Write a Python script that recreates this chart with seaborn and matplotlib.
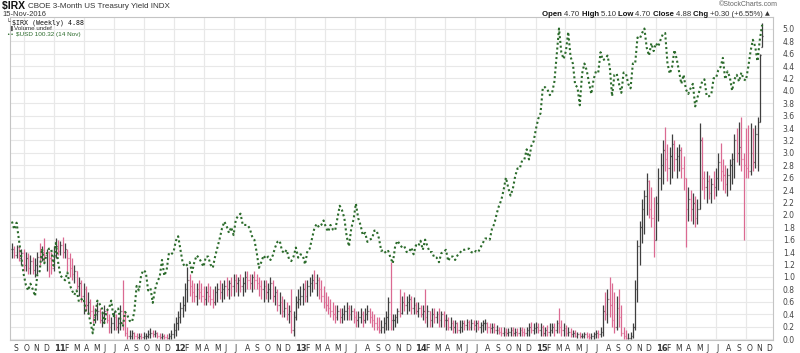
import numpy as np
import pandas as pd
import seaborn as sns
import matplotlib
matplotlib.use('Agg')
import matplotlib.pyplot as plt
import matplotlib.dates as mdates

# $IRX weekly bars as (low, high, close), one list per calendar year
irx_2010 = [(1.30,1.55,1.45),(1.30,1.50,1.35),(1.30,1.52,1.48),(1.25,1.50,1.30),(1.20,1.45,1.38),
            (1.10,1.45,1.20),(1.10,1.40,1.30),(1.05,1.38,1.15),(1.05,1.35,1.25),(1.05,1.32,1.12),
            (1.00,1.30,1.20),(1.05,1.40,1.32),(1.20,1.55,1.30),(1.25,1.50,1.40),(1.25,1.62,1.35),
            (1.10,1.45,1.40),(1.00,1.42,1.30),(1.05,1.40,1.15),(1.10,1.50,1.35)]
irx_2011 = [(1.30,1.62,1.50),(1.35,1.60,1.42),(1.35,1.58,1.52),(1.30,1.65,1.40),(1.30,1.55,1.45),
            (1.10,1.45,1.30),(1.00,1.38,1.15),(0.95,1.30,1.05),(0.90,1.20,1.10),(0.80,1.10,0.85),
            (0.70,1.00,0.90),(0.60,0.95,0.70),(0.40,0.90,0.80),(0.45,0.85,0.55),
            (0.40,0.75,0.60),(0.35,0.65,0.45),(0.25,0.55,0.35),(0.25,0.50,0.40),(0.30,0.60,0.45),
            (0.25,0.50,0.30),(0.20,0.45,0.35),(0.25,0.55,0.45),(0.25,0.50,0.30),(0.10,0.40,0.20),
            (0.10,0.35,0.25),(0.15,0.45,0.35),(0.15,0.40,0.20),(0.10,0.35,0.25),(0.15,0.55,0.45),
            (0.15,0.95,0.30),
            (0.05,0.45,0.10),(0.00,0.20,0.05),(0.00,0.15,0.05),(0.00,0.15,0.10),(0.00,0.12,0.05),
            (0.00,0.10,0.03),(0.00,0.10,0.05),(0.00,0.10,0.03),(0.00,0.12,0.05),(0.00,0.10,0.05),
            (0.02,0.15,0.08),(0.02,0.18,0.10),(0.03,0.15,0.08),(0.03,0.15,0.10),(0.02,0.12,0.05),
            (0.00,0.10,0.03),(0.00,0.10,0.05),(0.00,0.08,0.03),(0.00,0.08,0.02),(0.00,0.10,0.05),
            (0.00,0.15,0.08),(0.02,0.25,0.15)]
irx_2012 = [(0.05,0.35,0.25),(0.15,0.45,0.35),(0.25,0.60,0.50),(0.35,0.70,0.55),(0.45,0.90,0.80),
            (0.60,1.16,0.95),(0.70,1.05,0.85),(0.60,0.95,0.75),(0.60,0.90,0.70),(0.55,0.90,0.80),
            (0.65,0.95,0.75),(0.60,0.90,0.70),(0.55,0.85,0.65),(0.55,0.85,0.75),(0.60,0.90,0.70),
            (0.55,0.85,0.65),(0.50,0.80,0.60),(0.55,0.85,0.75),(0.60,0.90,0.80),(0.65,0.95,0.75),
            (0.60,0.90,0.80),(0.65,0.95,0.85),(0.70,1.00,0.80),(0.65,0.95,0.90),(0.70,1.00,0.85),
            (0.70,1.05,0.95),(0.75,1.05,0.90),(0.70,1.00,0.95),(0.75,1.05,0.85),(0.70,1.00,0.90),
            (0.75,1.10,1.00),(0.80,1.10,0.95),(0.80,1.05,0.90),(0.75,1.05,1.00),(0.80,1.10,0.95),
            (0.80,1.05,0.90),(0.70,1.00,0.85),(0.65,0.95,0.80),(0.60,0.95,0.85),(0.65,0.95,0.75),
            (0.60,0.90,0.80),(0.65,1.00,0.90),(0.60,0.95,0.70),(0.55,0.85,0.75),(0.45,0.80,0.55),
            (0.40,0.75,0.60),(0.35,0.70,0.45),(0.35,0.65,0.50),(0.30,0.60,0.40),(0.25,0.55,0.45),
            (0.10,0.80,0.15),(0.05,0.45,0.35)]
irx_2013 = [(0.30,0.70,0.60),(0.50,0.80,0.65),(0.55,0.85,0.70),(0.55,0.90,0.80),(0.60,0.95,0.70),
            (0.60,0.95,0.85),(0.70,1.00,0.90),(0.75,1.05,0.95),(0.80,1.12,0.90),(0.70,1.05,0.95),
            (0.65,1.00,0.80),(0.60,0.95,0.70),(0.50,0.85,0.60),(0.45,0.75,0.55),(0.40,0.70,0.50),
            (0.35,0.65,0.45),(0.30,0.60,0.40),(0.25,0.55,0.35),(0.30,0.55,0.45),(0.25,0.50,0.35),
            (0.25,0.50,0.40),(0.30,0.55,0.45),(0.30,0.60,0.50),(0.30,0.55,0.40),(0.30,0.55,0.45),
            (0.25,0.50,0.35),(0.20,0.45,0.30),(0.20,0.45,0.35),(0.25,0.50,0.40),(0.20,0.45,0.30),
            (0.25,0.50,0.40),(0.30,0.55,0.45),(0.25,0.50,0.35),(0.20,0.45,0.30),(0.15,0.40,0.25),
            (0.15,0.35,0.20),(0.10,0.35,0.15),(0.10,0.30,0.20),(0.10,0.35,0.25),(0.15,0.45,0.35),
            (0.15,0.68,0.60),(0.15,1.24,0.30),(0.15,0.40,0.30),(0.20,0.40,0.35),(0.25,0.50,0.45),
            (0.35,0.80,0.42),(0.40,0.70,0.60),(0.45,0.75,0.55),(0.40,0.70,0.60),(0.45,0.72,0.65),
            (0.40,0.70,0.50),(0.40,0.68,0.55)]
irx_2014 = [(0.40,0.60,0.45),(0.35,0.60,0.50),(0.35,0.55,0.40),(0.30,0.55,0.45),(0.25,0.80,0.35),
            (0.20,0.55,0.45),(0.20,0.45,0.30),(0.20,0.50,0.40),(0.25,0.50,0.35),(0.25,0.45,0.40),
            (0.20,0.50,0.30),(0.20,0.45,0.40),(0.20,0.45,0.30),(0.15,0.40,0.30),(0.15,0.35,0.20),
            (0.15,0.35,0.25),(0.10,0.30,0.20),(0.10,0.30,0.25),(0.10,0.28,0.15),(0.10,0.30,0.20),
            (0.12,0.30,0.25),(0.15,0.30,0.22),(0.15,0.32,0.28),(0.15,0.30,0.20),(0.15,0.32,0.25),
            (0.15,0.30,0.22),(0.12,0.30,0.25),(0.15,0.30,0.20),(0.10,0.28,0.22),(0.12,0.30,0.25),
            (0.15,0.32,0.25),(0.10,0.28,0.20),(0.10,0.25,0.18),(0.10,0.25,0.20),(0.10,0.25,0.15),
            (0.08,0.22,0.15),(0.08,0.20,0.12),(0.05,0.20,0.10),(0.05,0.20,0.12),(0.05,0.18,0.10),
            (0.05,0.18,0.12),(0.05,0.20,0.15),(0.05,0.20,0.10),(0.05,0.18,0.12),(0.05,0.18,0.10),
            (0.05,0.20,0.15),(0.05,0.20,0.12),(0.05,0.18,0.10),(0.05,0.20,0.15),(0.05,0.25,0.20),
            (0.10,0.28,0.15),(0.08,0.25,0.18)]
irx_2015 = [(0.10,0.28,0.20),(0.10,0.25,0.15),(0.05,0.25,0.20),(0.05,0.22,0.10),(0.05,0.20,0.15),
            (0.05,0.22,0.12),(0.05,0.25,0.15),(0.10,0.25,0.20),(0.05,0.25,0.15),(0.10,0.30,0.25),
            (0.10,0.50,0.20),(0.05,0.30,0.15),(0.05,0.25,0.18),(0.05,0.22,0.10),(0.05,0.20,0.12),
            (0.03,0.18,0.08),(0.03,0.15,0.10),(0.03,0.15,0.05),(0.02,0.12,0.08),(0.02,0.12,0.05),
            (0.02,0.10,0.05),(0.02,0.12,0.08),(0.02,0.12,0.05),(0.00,0.10,0.03),(0.00,0.10,0.05),
            (0.00,0.12,0.08),(0.02,0.15,0.10),(0.02,0.15,0.08),(0.03,0.20,0.12),(0.05,0.55,0.45),
            (0.30,0.75,0.40),(0.25,0.80,0.65),(0.35,1.00,0.55),(0.20,0.90,0.30),(0.10,0.75,0.20),
            (0.15,0.70,0.50),(0.20,0.80,0.35),(0.05,0.55,0.10),(0.00,0.20,0.05),(0.00,0.15,0.02),
            (0.00,0.10,0.02),(0.00,0.12,0.05),(0.02,0.25,0.20),(0.15,0.95,0.80),(0.60,1.60,1.50),
            (1.20,1.90,1.80),(1.55,2.25,2.10),(1.70,2.40,2.30),(2.00,2.68,2.55),(1.95,2.57,2.10),
            (1.80,2.45,1.95),(1.32,2.29,1.60)]
irx_2016 = [(1.60,2.30,2.20),(1.90,2.75,2.60),(2.40,3.00,2.80),(2.50,3.20,3.05),(2.70,3.42,2.90),
            (2.55,3.15,2.75),(2.50,3.10,2.95),(2.60,3.30,3.15),(2.70,3.20,2.90),(2.60,3.10,2.95),
            (2.70,3.15,3.05),(2.60,3.10,2.75),(2.40,2.95,2.60),(1.48,2.60,2.10),(1.90,2.45,2.25),
            (1.90,2.40,2.10),(1.85,2.35,2.20),(1.80,2.30,1.95),(1.85,2.25,2.10),(2.10,3.48,3.20),
            (2.40,3.25,2.60),(2.25,2.70,2.45),(2.20,2.70,2.55),(2.25,2.65,2.35),(2.20,2.60,2.50),
            (2.25,2.70,2.45),(2.30,2.75,2.60),(2.40,3.00,2.85),(2.55,3.16,2.70),(2.40,2.90,2.65),
            (2.35,2.80,2.50),(2.30,2.75,2.65),(2.40,2.90,2.80),(2.50,3.00,2.90),(2.60,3.30,3.20),
            (2.85,3.40,3.00),(2.80,3.50,3.10),(2.70,3.58,2.90),(1.60,3.00,2.80),(2.60,3.40,2.75),
            (2.60,3.45,2.70),(2.65,3.48,3.00),(2.70,3.40,2.85),(2.75,3.45,3.30),(2.70,3.58,3.50),
            (3.50,4.60,4.58),(4.70,5.10,4.88)]

# $USD weekly closes (overlay)
usd_2010 = [82.9, 82.2, 82.8, 81.3, 79.8, 78.3, 77.3, 76.8, 77.4, 76.9, 76.3, 78.2, 78.5, 80.5,
            79.2, 80.0, 80.5, 80.5, 79.0]
usd_2011 = [81.0, 79.3, 78.1, 77.9, 77.7, 78.4, 77.3, 76.8, 76.4, 76.8, 75.8, 76.0, 76.1, 75.0,
            74.9, 74.0, 73.0, 74.5, 75.9, 75.6, 75.2, 73.9, 75.0, 75.2, 75.9, 74.4, 75.0, 75.2,
            74.2, 73.6, 74.9, 74.6, 74.1, 74.0, 74.9, 77.2, 76.8, 78.2, 78.6, 78.4, 76.8, 77.0,
            75.7, 76.9, 77.6, 78.0, 79.5, 78.1, 78.6, 80.1, 80.0, 80.2]
usd_2012 = [81.2, 81.6, 80.4, 79.2, 78.9, 79.1, 79.3, 78.4, 79.3, 79.9, 79.7, 79.3, 78.9, 79.8,
            79.8, 79.1, 78.8, 79.8, 80.6, 81.4, 82.3, 82.9, 82.5, 81.9, 82.4, 81.7, 83.1, 83.4,
            83.6, 82.6, 82.6, 82.6, 82.3, 81.6, 81.3, 80.2, 78.8, 79.3, 79.9, 79.6, 79.8, 79.5,
            79.9, 80.6, 81.1, 81.2, 80.3, 80.1, 80.4, 79.6, 79.4, 79.8]
usd_2013 = [80.6, 79.7, 80.0, 79.9, 79.1, 80.3, 80.5, 81.4, 82.3, 82.7, 82.4, 82.6, 83.0, 82.4,
            82.0, 82.6, 82.2, 82.1, 83.2, 84.3, 83.9, 83.2, 81.6, 80.7, 82.3, 83.1, 84.5, 83.2,
            82.6, 81.7, 81.9, 81.1, 81.3, 81.4, 82.1, 82.1, 81.4, 80.3, 80.4, 80.1, 80.3, 79.7,
            79.2, 80.7, 81.2, 80.9, 80.6, 80.7, 80.2, 80.2, 80.6, 80.0]
usd_2014 = [80.8, 80.7, 81.2, 80.4, 81.3, 80.7, 80.2, 80.2, 79.7, 79.7, 79.3, 80.1, 80.2, 80.4,
            79.4, 79.8, 79.8, 79.5, 79.9, 80.1, 80.4, 80.4, 80.5, 80.5, 80.2, 80.1, 80.3, 80.2,
            80.6, 81.0, 81.4, 81.4, 81.3, 82.3, 82.7, 83.6, 84.3, 84.8, 85.7, 86.8, 85.9, 85.2,
            85.8, 86.9, 87.6, 87.6, 88.3, 88.4, 89.3, 88.4, 89.6, 90.0]
usd_2015 = [91.1, 92.0, 92.5, 94.8, 94.8, 94.6, 94.1, 94.3, 95.3, 97.7, 100.0, 97.9, 97.3, 98.0,
            99.7, 97.5, 96.9, 95.0, 94.8, 93.2, 96.0, 96.9, 96.3, 95.2, 94.2, 95.5, 96.2, 96.1,
            97.9, 97.2, 97.3, 97.6, 96.6, 94.0, 95.9, 96.0, 95.1, 94.3, 96.1, 96.0, 95.1, 94.7,
            96.9, 96.9, 99.2, 99.1, 99.6, 100.0, 98.3, 97.6, 98.7, 98.0]
usd_2016 = [98.7, 98.4, 99.0, 99.5, 99.6, 96.9, 96.0, 96.6, 98.1, 97.3, 96.2, 95.1, 95.9, 94.6,
            94.2, 94.7, 95.1, 93.1, 93.9, 94.6, 95.3, 95.5, 94.0, 94.0, 94.2, 95.6, 95.6, 96.3,
            96.6, 97.4, 95.5, 96.2, 95.7, 94.5, 95.5, 95.9, 95.3, 96.1, 95.5, 95.4, 96.6, 98.0,
            99.0, 98.4, 97.1, 99.0, 100.32]

first_week = '2010-08-27'
last_open, last_high, last_low, last_close = 4.70, 5.10, 4.70, 4.88
chg, chg_pct = 0.30, 6.55
usd_last = 100.32

bars = irx_2010 + irx_2011 + irx_2012 + irx_2013 + irx_2014 + irx_2015 + irx_2016
usd = usd_2010 + usd_2011 + usd_2012 + usd_2013 + usd_2014 + usd_2015 + usd_2016
df = pd.DataFrame(bars, columns=['low', 'high', 'close'])
df['date'] = pd.date_range(first_week, periods=len(df), freq='7D')
df['usd'] = usd
df['x'] = mdates.date2num(df['date'])
df['open'] = df['close'].shift(1).fillna(df['close'])
df.loc[df.index[-1], 'open'] = last_open
df['up'] = df['close'] >= df['close'].shift(1).fillna(df['close'])

sns.set_style('white')
plt.rcParams['font.family'] = ['DejaVu Sans']

W, H = 800, 353
fig = plt.figure(figsize=(W / 100, H / 100), dpi=100)
ax = fig.add_axes([10 / W, 1 - 340 / H, 763 / W, 323 / H])

x_left = mdates.date2num(pd.Timestamp('2010-08-21'))
x_right = mdates.date2num(pd.Timestamp('2016-12-21'))
ax.set_xlim(x_left, x_right)
ax.set_ylim(-0.016, 5.19)

grid_c = '#e8e8e8'
yt = np.round(np.arange(0, 5.01, 0.2), 1)
ax.hlines(yt, x_left, x_right, color=grid_c, lw=0.8, zorder=0)
months = pd.date_range('2010-09-01', '2016-12-01', freq='MS')
for m in months:
    if m.month in (1, 4, 7, 10):
        ax.axvline(mdates.date2num(m), color=grid_c, lw=0.9, zorder=0)

# OHLC bars
pink, dark = '#db6a92', '#3f3f3f'
tick = 2.2
for up, sub in df.groupby('up'):
    c = dark if up else pink
    ax.vlines(sub['x'], sub['low'], sub['high'], color=c, lw=0.9, zorder=2)
    ax.hlines(sub['close'], sub['x'], sub['x'] + tick, color=c, lw=0.9, zorder=2)
    ax.hlines(sub['open'], sub['x'] - tick, sub['x'], color=c, lw=0.9, zorder=2)

# $USD overlay on its own hidden scale
ax2 = ax.twinx()
sns.lineplot(x=df['x'], y=df['usd'], ax=ax2, color='#2b6b2b', lw=1.5,
             linestyle=(0, (1, 1.3)), zorder=3)
ax2.set_ylim(72.41, 101.02)
ax2.set_xlim(x_left, x_right)
ax2.set_axis_off()

# axes styling
ax.yaxis.tick_right()
ax.set_yticks(yt)
ax.set_yticklabels([f'{v:.1f}' for v in yt])
ax.tick_params(axis='y', length=0, pad=7, labelsize=5.5, labelcolor='#444444')
letters = 'JFMAMJJASOND'
labels = [f'{m.year % 100:02d}' if m.month == 1 else letters[m.month - 1] for m in months]
ax.set_xticks(mdates.date2num(months))
ax.set_xticklabels(labels)
ax.tick_params(axis='x', length=0, pad=3, labelsize=5.5, labelcolor='#333333')
for lbl, m in zip(ax.get_xticklabels(), months):
    lbl.set_ha('left')
    if m.month == 1:
        lbl.set_fontweight('bold')
        lbl.set_fontsize(6)
ax.set_xlabel('')
ax.set_ylabel('')
for s in ax.spines.values():
    s.set_color('#c4c4c4')
    s.set_linewidth(0.8)

renderer = fig.canvas.get_renderer()


def put_runs(x_px, y_px, runs, align='left'):
    texts = [fig.text(0, 1 - y_px / H, s, va='center', ha='left', **kw) for s, kw in runs]
    widths = [t.get_window_extent(renderer=renderer).width for t in texts]
    x = x_px if align == 'left' else x_px - sum(widths)
    for t, w in zip(texts, widths):
        t.set_x(x / W)
        x += w


hdr = 'Liberation Sans'
bold = dict(fontsize=5.6, fontweight='bold', color='#111111', family=hdr)
norm = dict(fontsize=5.6, color='#333333', family=hdr)
put_runs(2, 6, [('$IRX ', dict(fontsize=7.5, fontweight='bold', color='#111111', family=hdr)),
                ('CBOE 3-Month US Treasury Yield INDX', dict(fontsize=5.8, color='#333333',
                                                            family=hdr))])
fig.text(2 / W, 1 - 15 / H, '15-Nov-2016', fontsize=5.5, color='#333333', va='center',
         family=hdr)
fig.text(778 / W, 1 - 5 / H, '\u00a9StockCharts.com', fontsize=5, color='#666666',
         va='center', ha='right', family=hdr)
put_runs(770, 14, [
    ('Open ', bold), (f'{last_open:.2f} ', norm),
    ('High ', bold), (f'{last_high:.2f} ', norm),
    ('Low ', bold), (f'{last_low:.2f} ', norm),
    ('Close ', bold), (f'{last_close:.2f} ', norm),
    ('Chg ', bold), (f'+{chg:.2f} (+{chg_pct:.2f}%) ', norm),
    ('\u25b2', dict(fontsize=4.5, color='#333333')),
], align='right')

# legend block inside the plot
put_runs(7, 22.5, [('\u2514 ', dict(fontsize=4.2, color='#333333')),
                   (f'$IRX (Weekly) {last_close:.2f}', dict(fontsize=4.8, family='DejaVu Sans Mono',
                                                           color='#111111'))])
put_runs(9, 28.5, [('\u2590 ', dict(fontsize=3.5, color='#555555')),
                   ('Volume undef', dict(fontsize=4.5, color='#333333', family=hdr))])
put_runs(7, 34.5, [('\u2022\u2022 ', dict(fontsize=4, color='#2b6b2b')),
                   (f'$USD {usd_last:.2f} (14 Nov)', dict(fontsize=4.6, color='#2b6b2b',
                                                          family=hdr))])

fig.savefig('out.png', dpi=100)
